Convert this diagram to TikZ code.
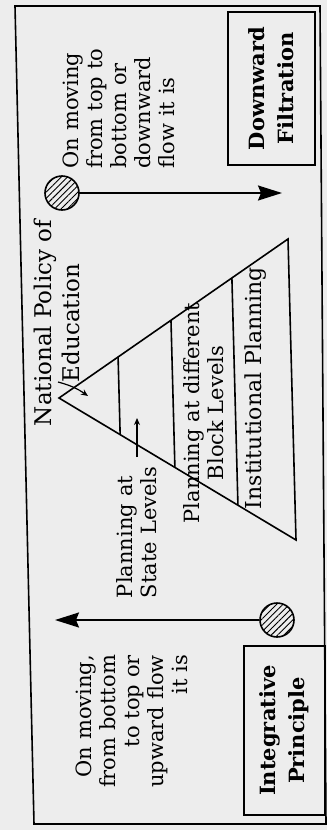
\documentclass[tikz,border=0pt]{standalone}
\usepackage{fontspec}
\setmainfont{DejaVu Serif}
\usetikzlibrary{arrows.meta,patterns.meta,calc}
\tikzset{
  lbl/.style={rotate=90,inner sep=0pt,font=\fontsize{21}{24}\selectfont},
  boxlbl/.style={lbl,draw,line width=1.6pt,font=\fontsize{21}{29}\selectfont\bfseries,align=center},
  hub/.style={circle,draw,line width=1.6pt,minimum size=34pt,inner sep=0pt,pattern={Lines[angle=45,distance=4.5pt,line width=.9pt]}},
  flow/.style={line width=1.7pt,-{Stealth[length=24pt,width=15pt,inset=3pt]}},
  hint/.style={line width=1.2pt,-{Stealth[length=7pt,width=6pt]}}
}
\begin{document}
\begin{tikzpicture}[x=1pt,y=-1pt,line width=1.6pt]
\fill[black!7] (0,0) rectangle (327,830);
\useasboundingbox (0,0) rectangle (327,830);
\draw (15,6)--(320,6)--(326,824)--(34,824)--cycle;
\coordinate (apx) at (59,398); \coordinate (ttop) at (288,239); \coordinate (tbot) at (296,540);
\draw (apx)--(ttop)--(tbot)--cycle;
\foreach \t in {.258,.489,.755}{\draw ($(apx)!\t!(ttop)$)--($(apx)!\t!(tbot)$);}
\node[lbl,align=center,font=\fontsize{23}{28}\selectfont] (nep) at (57,323) {National Policy of\\Education};
\node[lbl,align=left,text width=145pt] (down-txt) at (119,96) {On moving\\from top to\\bottom or\\downward\\flow it is};
\node[lbl,align=right,text width=140pt] (up-txt) at (132,725) {On moving,\\from bottom\\to top or\\upward flow\\it is};
\node[lbl,align=left,text width=140pt] (state) at (137,528) {Planning at\\State Levels};
\node[lbl,align=center] (block) at (204,413) {Planning at different\\Block Levels};
\node[lbl,font=\fontsize{22}{24}\selectfont] (inst) at (256,388) {Institutional Planning};
\node[boxlbl,minimum width=153pt,minimum height=87pt] (filt) at (271.5,88.5) {Downward\\Filtration};
\node[boxlbl,minimum width=169pt,minimum height=81pt] (integ) at (284.5,730.5) {Integrative\\Principle};
\node[hub] (hub-top) at (62,193) {};
\node[hub] (hub-bot) at (277,620) {};
\coordinate (down-end) at (282,193); \coordinate (up-end) at (55,620);
\draw[flow] (hub-top) -- (down-end);
\draw[flow] (hub-bot) -- (up-end);
\coordinate (edu-a) at (58,382); \coordinate (edu-b) at (88,396);
\draw[hint] (edu-a) to[bend left=10] (edu-b);
\coordinate (state-tip) at (137,418);
\draw[hint] (state.east) -- (state-tip);
\end{tikzpicture}
\end{document}
